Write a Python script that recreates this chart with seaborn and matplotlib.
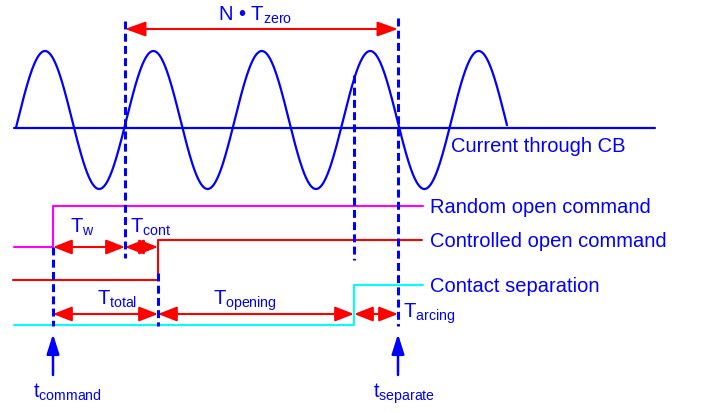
import numpy as np
import pandas as pd
import matplotlib
matplotlib.use("Agg")
import matplotlib.pyplot as plt
from matplotlib.patches import FancyArrowPatch
import seaborn as sns

# ---------------- data (diagram time / level units) ----------------
# current through CB (sinusoid)
wave_period = 108.4
wave_amp = 69.0
wave_center = 120.0
wave_peak_first = 45.0
wave_start, wave_end = 16.0, 507.0
baseline_level = 128.0
baseline_start, baseline_end = 14.0, 655.0

# event instants
t_command = 53.0
t_zero_first = 125.0
t_ctrl = 158.0
t_contact = 354.0
t_separate = 398.0

# step signals
random_x = [14, t_command, t_command, 423]
random_y = [247, 247, 206, 206]
ctrl_x = [13, t_ctrl, t_ctrl, 422]
ctrl_y = [280, 280, 240, 240]
contact_x = [14, t_contact, t_contact, 423]
contact_y = [325, 325, 285, 285]

# dashed markers: (x, top, bottom)
dash_x = [t_command, t_zero_first, t_ctrl, t_contact, t_separate]
dash_top = [247, 21, 273, 75, 18]
dash_bot = [326, 258, 326, 260, 326]

# interval arrows: (start, end, level)
iv_start = [t_zero_first, t_command, t_zero_first, t_command, t_ctrl, t_contact]
iv_end = [t_separate, t_zero_first, t_ctrl, t_ctrl, t_contact, t_separate]
iv_level = [29, 247, 247, 314, 314, 314]

signal_labels = ["Current through CB", "Random open command",
                 "Controlled open command", "Contact separation"]
interval_labels = [r"N • $\mathrm{T}_{\mathrm{zero}}$", r"$\mathrm{T}_{\mathrm{w}}$",
                   r"$\mathrm{T}_{\mathrm{cont}}$", r"$\mathrm{T}_{\mathrm{total}}$",
                   r"$\mathrm{T}_{\mathrm{opening}}$", r"$\mathrm{T}_{\mathrm{arcing}}$"]
instant_labels = [r"$\mathrm{t}_{\mathrm{command}}$", r"$\mathrm{t}_{\mathrm{separate}}$"]

# ---------------- style ----------------
sns.set_theme(style="white")
plt.rcParams["font.family"] = ["Liberation Sans", "DejaVu Sans"]
plt.rcParams["mathtext.fontset"] = "custom"
plt.rcParams["mathtext.rm"] = "Liberation Sans"
plt.rcParams["mathtext.it"] = "Liberation Sans:italic"
plt.rcParams["mathtext.bf"] = "Liberation Sans:bold"

BLUE = "#0000ff"
RED = "#ff0000"
MAGENTA = "#ff00ff"
CYAN = "#00ffff"
FS = 14.5

fig = plt.figure(figsize=(7.01, 4.13), dpi=100)
ax = fig.add_axes([0, 0, 1, 1])
ax.set_xlim(0, 701)
ax.set_ylim(413, 0)
ax.axis("off")

# current wave
x0 = wave_peak_first - wave_period / 4
wx = np.linspace(wave_start, wave_end, 800)
wy = wave_center - wave_amp * np.sin(2 * np.pi * (wx - x0) / wave_period)
sns.lineplot(x=wx, y=wy, ax=ax, color=BLUE, lw=1.6, sort=False, estimator=None)
sns.lineplot(x=[baseline_start, baseline_end], y=[baseline_level, baseline_level],
             ax=ax, color=BLUE, lw=1.6, sort=False, estimator=None)

# step signals
for xs, ys, c in [(random_x, random_y, MAGENTA), (ctrl_x, ctrl_y, RED),
                  (contact_x, contact_y, CYAN)]:
    sns.lineplot(x=xs, y=ys, ax=ax, color=c, lw=1.5, sort=False, estimator=None)

# dashed instants
for x, a, b in zip(dash_x, dash_top, dash_bot):
    ax.plot([x, x], [a, b], color=BLUE, lw=2.2, ls=(0, (2.6, 1.4)), solid_capstyle="butt")

# interval arrows
for s, e, lv in zip(iv_start, iv_end, iv_level):
    hl = 12.5 if s == t_zero_first and e == t_separate else 11.5
    arr = FancyArrowPatch((s, lv), (e, lv),
                          arrowstyle=f"<|-|>,head_length={hl},head_width=4.5",
                          mutation_scale=1, color=RED, lw=1.5,
                          shrinkA=0, shrinkB=0)
    ax.add_patch(arr)

# instant arrows
for x in [t_command, t_separate]:
    arr = FancyArrowPatch((x, 375), (x, 334),
                          arrowstyle="-|>,head_length=12,head_width=3.8",
                          mutation_scale=1, color=BLUE, lw=1.8,
                          shrinkA=0, shrinkB=0)
    ax.add_patch(arr)

# labels
ax.text(451, 152, signal_labels[0], color=BLUE, fontsize=FS, va="baseline")
ax.text(430, 213, signal_labels[1], color=BLUE, fontsize=FS, va="baseline")
ax.text(430, 247, signal_labels[2], color=BLUE, fontsize=FS, va="baseline")
ax.text(430, 292, signal_labels[3], color=BLUE, fontsize=FS, va="baseline")

iv_text_pos = [(218, 21), (70, 233), (130, 233), (97, 305), (213, 305), (403, 318)]
for lab, (tx, ty) in zip(interval_labels, iv_text_pos):
    ax.text(tx, ty, lab, color=BLUE, fontsize=FS, va="baseline")

ax.text(33, 398, instant_labels[0], color=BLUE, fontsize=FS, va="baseline")
ax.text(373, 398, instant_labels[1], color=BLUE, fontsize=FS, va="baseline")

fig.savefig("out.png", dpi=100)
